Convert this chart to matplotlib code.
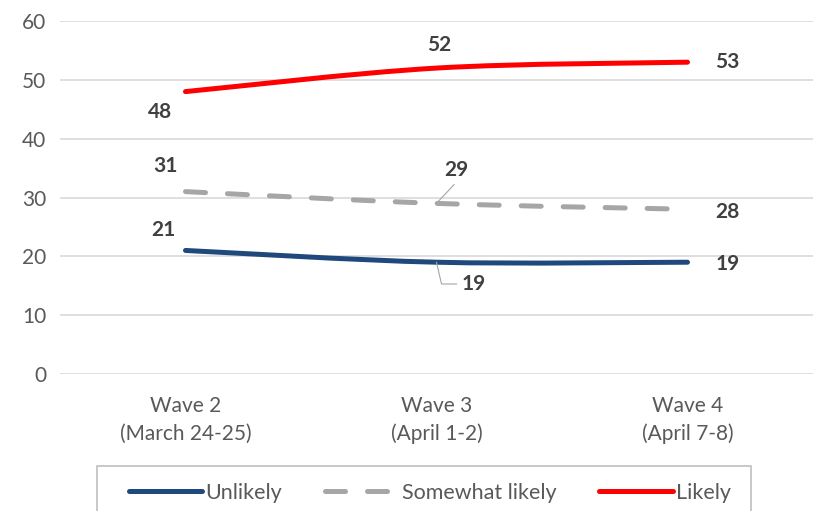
import numpy as np
import matplotlib.pyplot as plt
from matplotlib.path import Path
from matplotlib.patches import PathPatch, Rectangle
from matplotlib.lines import Line2D

plt.rcParams["font.family"] = ["Lato", "DejaVu Sans"]

waves = ["Wave 2\n(March 24-25)", "Wave 3\n(April 1-2)", "Wave 4\n(April 7-8)"]
unlikely = [21, 19, 19]
somewhat = [31, 29, 28]
likely = [48, 52, 53]


def smooth_path(ys):
    # cubic bezier through the points (catmull-rom style tangents)
    pts = np.column_stack([np.arange(len(ys)), ys]).astype(float)
    ext = np.vstack([pts[0], pts, pts[-1]])
    verts = [pts[0]]
    codes = [Path.MOVETO]
    for i in range(len(pts) - 1):
        p0, p1, p2, p3 = ext[i], ext[i + 1], ext[i + 2], ext[i + 3]
        verts += [p1 + (p2 - p0) / 6, p2 - (p3 - p1) / 6, p2]
        codes += [Path.CURVE4] * 3
    return Path(verts, codes)


fig = plt.figure(figsize=(8.14, 5.11), dpi=100)
ax = fig.add_axes([60 / 814, 1 - 374 / 511, 753 / 814, 353 / 511])

series = [
    (unlikely, "#1f497d", "-", "Unlikely"),
    (somewhat, "#a6a6a6", (0, (4, 4.4)), "Somewhat likely"),
    (likely, "#ff0000", "-", "Likely"),
]
handles = []
for ys, col, ls, name in series:
    ax.add_patch(PathPatch(smooth_path(ys), fill=False, edgecolor=col, lw=3.6,
                           linestyle=ls, capstyle="round", joinstyle="round", zorder=3))
    handles.append(Line2D([], [], color=col, lw=3.6, linestyle=ls,
                          solid_capstyle="round", dash_capstyle="round", label=name))

lab = dict(fontsize=15, fontweight="bold", color="#404040", ha="center", va="center")
ax.text(-0.1, likely[0] - 3.5, likely[0], **lab)
ax.text(1.01, likely[1] + 3.9, likely[1], **lab)
ax.text(2.16, likely[2], likely[2], **lab)
ax.text(-0.08, somewhat[0] + 4.4, somewhat[0], **lab)
ax.text(1.08, somewhat[1] + 5.7, somewhat[1], **lab)
ax.plot([1.0, 1.07], [somewhat[1], somewhat[1] + 3.2], color="#a6a6a6", lw=0.8, zorder=4)
ax.text(2.16, somewhat[2] - 0.4, somewhat[2], **lab)
ax.text(-0.09, unlikely[0] + 3.5, unlikely[0], **lab)
ax.text(1.15, unlikely[1] - 3.7, unlikely[1], **lab)
ax.plot([1.0, 1.02, 1.08], [unlikely[1], unlikely[1] - 3.7, unlikely[1] - 3.7],
        color="#a6a6a6", lw=0.8, zorder=4)
ax.text(2.16, unlikely[2] - 0.3, unlikely[2], **lab)

ax.set_xlim(-0.5, 2.5)
ax.set_ylim(0, 60)
ax.set_yticks(range(0, 61, 10))
ax.set_xticks(range(3))
ax.set_xticklabels(waves, linespacing=1.45)
ax.tick_params(length=0, labelsize=15, colors="#595959")
ax.tick_params(axis="y", pad=10)
ax.tick_params(axis="x", pad=16)
ax.grid(axis="y", color="#d9d9d9", lw=1.2)
ax.set_axisbelow(True)
for s in ax.spines.values():
    s.set_visible(False)

# legend box runs off the bottom edge of the figure
fig.add_artist(Rectangle((97 / 814, -0.1), 654 / 814, 0.1 + 45 / 511,
                         transform=fig.transFigure, fill=False,
                         edgecolor="#bfbfbf", lw=1.2))
fig.legend(handles=handles, loc="center", bbox_to_anchor=(430 / 814, 1 - 493 / 511),
           ncol=3, fontsize=15.5, frameon=False, handlelength=3.4, handletextpad=0.15,
           columnspacing=2.0, labelcolor="#595959")

fig.savefig("out.png", dpi=100)
